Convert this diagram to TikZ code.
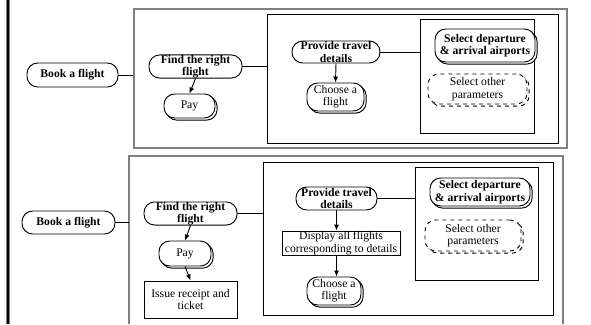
\documentclass[tikz,border=0pt]{standalone}
\usepackage{fontspec}
\setmainfont{Liberation Serif}
\usetikzlibrary{shadows,arrows.meta}
\tikzset{
  sz/.style 2 args={minimum width=#1*0.75pt, minimum height=#2*0.75pt},
  pill/.style={draw, fill=white, rounded corners=8pt, inner sep=0pt, align=center, line width=0.7pt, font=\fontsize{8.75}{9.3}\selectfont},
  boldpill/.style={pill, font=\fontsize{8.75}{9.3}\selectfont\bfseries},
  shad/.style={copy shadow={shadow xshift=1.6pt, shadow yshift=-1.6pt, draw=black, fill=white, opacity=1, line width=0.7pt}},
  dshad/.style={dashed, copy shadow={shadow xshift=1.6pt, shadow yshift=-1.6pt, draw=black, fill=white, opacity=1, dashed, line width=0.7pt}},
  plainbox/.style={draw, fill=white, inner sep=0pt, align=center, line width=0.7pt, font=\fontsize{8.75}{9.3}\selectfont},
  frame/.style={draw, inner sep=0pt, line width=0.7pt},
  outerframe/.style={draw=gray, inner sep=0pt, line width=1pt},
  link/.style={line width=0.7pt},
  arr/.style={line width=0.7pt, -{Latex[length=4.5pt,width=3.8pt]}},
}
\begin{document}
\begin{tikzpicture}[x=0.75pt,y=-0.75pt]
\useasboundingbox (0,0) rectangle (591,324);
% thick left rule
\coordinate (lt) at (8,0);
\coordinate (lb) at (8,324);
\draw[gray, line width=3pt] (lt) -- (lb);
\draw[black, line width=1.8pt] (lt) -- (lb);

% ===== top panel =====
\node[outerframe, sz={433}{139}] (out1) at (350.5,78.5) {};
\node[frame, sz={291}{129}] (in1) at (412.5,78.5) {};
\node[frame, sz={114}{114}] (sub1) at (477,76) {};

\node[boldpill, sz={91}{24}] (book1) at (72.5,75) {Book a flight};
\node[boldpill, sz={93}{23}] (find1) at (195.5,66.5) {Find the right\\flight};
\node[pill, shad, sz={51}{24}] (pay1) at (189.5,106) {Pay};
\node[boldpill, sz={88}{22}] (prov1) at (336,52) {Provide travel\\details};
\node[pill, shad, sz={57}{28}] (choose1) at (335.5,97) {Choose a\\flight};
\node[boldpill, shad, sz={100}{33}] (sel1) at (485,45.5) {Select departure\\\& arrival airports};
\node[pill, dshad, sz={99}{30}] (other1) at (477.5,89) {Select other\\parameters};

\draw[link] (book1.east) -- (book1.east -| out1.west);
\draw[link] (find1.east) -- (find1.east -| in1.west);
\draw[link] (prov1.east) -- (prov1.east -| sub1.west);
\draw[arr] (find1.south) -- (pay1.north);
\draw[arr] (prov1.south) -- (choose1.north);

% ===== bottom panel =====
\coordinate (o2bl) at (129,324);
\coordinate (o2tl) at (129,156);
\coordinate (o2tr) at (563,156);
\coordinate (o2br) at (563,324);
\draw[gray, line width=1pt] (o2bl) -- (o2tl) -- (o2tr) -- (o2br);
\node[frame, sz={290}{153}] (in2) at (408,238.5) {};
\node[frame, sz={123}{113}] (sub2) at (476.5,223.5) {};

\node[boldpill, sz={93}{23}] (book2) at (68.5,222.5) {Book a flight};
\node[boldpill, sz={93}{23}] (find2) at (190.5,213.5) {Find the right\\flight};
\node[pill, shad, sz={52}{25}] (pay2) at (185,253.5) {Pay};
\node[plainbox, sz={93}{37}] (issue) at (190.5,299.5) {Issue receipt and\\ticket};
\node[boldpill, sz={81}{23}] (prov2) at (336.5,198.5) {Provide travel\\details};
\node[plainbox, sz={118}{24}] (disp) at (341,243) {Display all flights\\corresponding to details};
\node[pill, shad, sz={54}{28}] (choose2) at (334,291) {Choose a\\flight};
\node[boldpill, shad, sz={100}{28}] (sel2) at (480,192) {Select departure\\\& arrival airports};
\node[pill, dshad, sz={96}{31}] (other2) at (473,235.5) {Select other\\parameters};

\draw[link] (book2.east) -- (book2.east -| o2tl);
\draw[link] (find2.east) -- (find2.east -| in2.west);
\draw[link] (prov2.east) -- (prov2.east -| sub2.west);
\draw[arr] (find2.south) -- (pay2.north);
\draw[arr] (pay2.south) -- (issue.north);
\draw[arr] (prov2.south) -- (prov2.south |- disp.north);
\draw[arr] (prov2.south |- disp.south) -- (prov2.south |- choose2.north);
\end{tikzpicture}
\end{document}
